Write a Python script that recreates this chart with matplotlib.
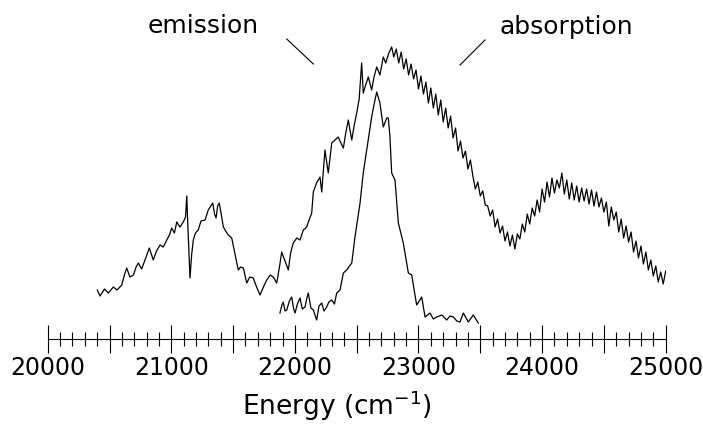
import matplotlib
matplotlib.use("Agg")
import matplotlib.pyplot as plt
from matplotlib.ticker import MultipleLocator

# 넓은 스펙트럼 (20400 ~ 25000 cm-1)
broad_e = [20401, 20423, 20460, 20490, 20531, 20560, 20599, 20620, 20639, 20665,
           20693, 20715, 20733, 20760, 20787, 20822, 20854, 20880, 20909, 20935,
           20963, 20985, 21003, 21025, 21044, 21070, 21097, 21115, 21125, 21133,
           21151, 21165, 21178, 21195, 21218, 21240, 21273, 21299, 21335, 21350,
           21362, 21375, 21388, 21405, 21421, 21440, 21461, 21489, 21515, 21542,
           21560, 21583, 21610, 21635, 21663, 21690, 21718, 21745, 21772, 21800,
           21825, 21853, 21875, 21893, 21920, 21947, 21965, 21987, 22015, 22041,
           22068, 22095, 22115, 22136, 22149, 22175, 22203, 22217, 22243, 22270,
           22298, 22325, 22351, 22372, 22392, 22410, 22432, 22460, 22480, 22500,
           22520, 22540, 22553, 22575, 22594, 22621, 22640, 22662, 22688, 22715,
           22735, 22760, 22783, 22800, 22820, 22840, 22860, 22880, 22900, 22920,
           22940, 22960, 22980, 23000, 23020, 23040, 23060, 23080, 23100, 23120,
           23140, 23160, 23180, 23200, 23220, 23240, 23260, 23280, 23300, 23320,
           23340, 23360, 23380, 23400, 23420, 23440, 23460, 23480, 23500, 23520,
           23540, 23560, 23580, 23600, 23620, 23640, 23660, 23680, 23700, 23720,
           23740, 23760, 23780, 23800, 23820, 23840, 23860, 23880, 23900, 23920,
           23940, 23960, 23980, 24000, 24020, 24040, 24060, 24080, 24100, 24120,
           24140, 24160, 24180, 24200, 24220, 24240, 24260, 24280, 24300, 24320,
           24340, 24360, 24380, 24400, 24420, 24440, 24460, 24480, 24500, 24520,
           24540, 24560, 24580, 24600, 24620, 24640, 24660, 24680, 24700, 24720,
           24740, 24760, 24780, 24800, 24820, 24840, 24860, 24880, 24900, 24920,
           24940, 24960, 24980, 25000]
broad_i = [49, 43, 50, 46, 52, 49, 54, 64, 71, 62,
           64, 72, 76, 70, 79, 91, 79, 88, 94, 92,
           99, 104, 111, 106, 117, 112, 117, 122, 143, 116,
           61, 85, 99, 106, 109, 118, 119, 129, 136, 125,
           121, 133, 136, 124, 112, 108, 104, 101, 85, 69,
           72, 71, 56, 62, 61, 52, 44, 52, 59, 64,
           62, 56, 72, 87, 78, 69, 86, 96, 101, 99,
           109, 112, 119, 126, 147, 156, 162, 147, 189, 166,
           196, 199, 202, 196, 191, 205, 219, 199, 214, 226,
           240, 276, 246, 255, 262, 249, 262, 272, 264, 282,
           276, 286, 292, 282, 290, 276, 287, 270, 280, 264,
           275, 260, 269, 250, 263, 245, 257, 236, 251, 231,
           245, 224, 239, 217, 231, 211, 223, 201, 211, 188,
           198, 181, 188, 170, 179, 163, 150, 157, 143, 148,
           134, 133, 123, 129, 112, 120, 106, 113, 98, 107,
           93, 104, 90, 105, 100, 115, 107, 125, 115, 131,
           123, 139, 127, 150, 137, 157, 142, 161, 146, 159,
           151, 166, 145, 159, 140, 156, 139, 153, 137, 151,
           138, 150, 135, 149, 133, 147, 132, 141, 127, 137,
           113, 132, 119, 127, 107, 120, 101, 113, 97, 107,
           87, 98, 81, 93, 75, 87, 69, 79, 63, 73,
           57, 67, 55, 68]

# 좁은 스펙트럼 (21880 ~ 23480 cm-1)
narrow_e = [21879, 21895, 21906, 21920, 21934, 21955, 21974, 21990, 22001, 22020,
            22041, 22060, 22082, 22095, 22108, 22130, 22149, 22176, 22195, 22217,
            22235, 22257, 22275, 22298, 22320, 22338, 22365, 22392, 22419, 22460,
            22486, 22527, 22553, 22581, 22621, 22648, 22662, 22688, 22715, 22743,
            22756, 22769, 22783, 22810, 22837, 22877, 22918, 22945, 22985, 23026,
            23053, 23093, 23120, 23147, 23190, 23228, 23255, 23282, 23310, 23336,
            23363, 23403, 23443, 23484]
narrow_i = [26, 34, 37, 28, 29, 38, 42, 30, 26, 35,
            41, 30, 32, 40, 46, 31, 29, 19, 33, 36,
            28, 32, 37, 39, 35, 46, 49, 66, 69, 76,
            102, 136, 166, 189, 222, 239, 247, 236, 212, 221,
            221, 202, 166, 159, 116, 96, 66, 64, 34, 42,
            22, 26, 20, 22, 24, 19, 23, 22, 18, 17,
            26, 17, 24, 16]

x_min, x_max = 20000, 25000
tick_labels = ["20000", "21000", "22000", "23000", "24000", "25000"]

plt.rcParams["font.family"] = ["DejaVu Sans"]

fig = plt.figure(figsize = (7.03, 4.26), dpi = 100)
ax = fig.add_axes([0.0679, 0.2042, 0.879, 0.7958])

ax.plot(broad_e, broad_i, color = "black", lw = 0.9)
ax.plot(narrow_e, narrow_i, color = "black", lw = 0.9)

ax.set_xlim(x_min, x_max)
ax.set_ylim(0, 339)

# 축은 아래쪽만
for side in ["left", "right", "top"] :
    ax.spines[side].set_visible(False)
ax.spines["bottom"].set_linewidth(0.8)
ax.set_yticks([])

major = list(range(x_min, x_max + 1, 500))
ax.set_xticks(major)
ax.xaxis.set_minor_locator(MultipleLocator(100))
ax.tick_params(axis = "x", which = "major", direction = "inout", length = 20, width = 0.8, pad = 2)
ax.tick_params(axis = "x", which = "minor", direction = "inout", length = 10, width = 0.8)
ax.set_xticklabels([str(m) if str(m) in tick_labels else "" for m in major], fontsize = 17)

ax.set_xlabel("Energy (cm$^{-1}$)", fontsize = 19)
ax.xaxis.set_label_coords(0.468, -0.145)

# 라벨과 지시선
ax.text(21257, 313, "emission", fontsize = 18, ha = "center", va = "center")
ax.text(24193, 312, "absorption", fontsize = 18, ha = "center", va = "center")
ax.plot([21934, 22149], [300, 275], color = "black", lw = 0.8)
ax.plot([23538, 23336], [299, 274], color = "black", lw = 0.8)

fig.savefig("out.png", dpi = 100)
